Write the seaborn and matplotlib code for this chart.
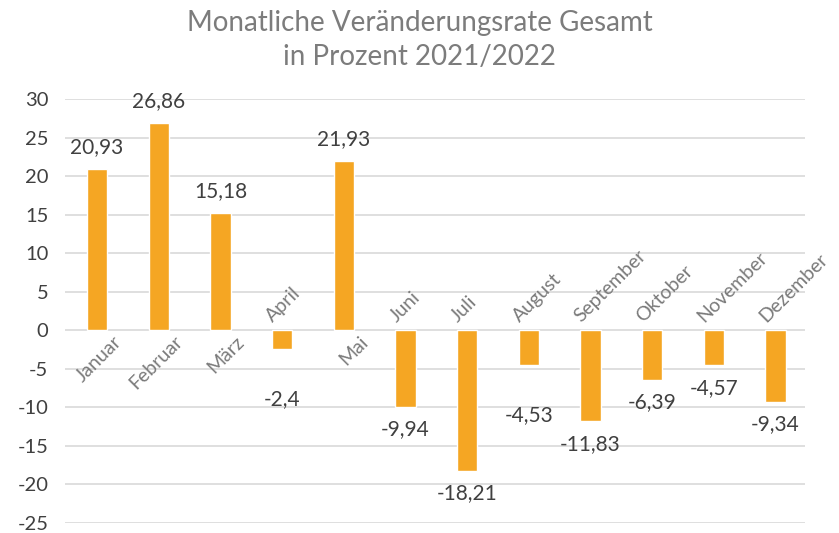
import pandas as pd
import matplotlib.pyplot as plt
import seaborn as sns

months = ["Januar", "Februar", "März", "April", "Mai", "Juni", "Juli",
          "August", "September", "Oktober", "November", "Dezember"]
values = [20.93, 26.86, 15.18, -2.4, 21.93, -9.94, -18.21,
          -4.53, -11.83, -6.39, -4.57, -9.34]
value_labels = ["20,93", "26,86", "15,18", "-2,4", "21,93", "-9,94", "-18,21",
                "-4,53", "-11,83", "-6,39", "-4,57", "-9,34"]
y_ticks = list(range(-25, 31, 5))

# some labels were pushed further down in the original
extra_drop = {"April": 20, "August": 20}

df = pd.DataFrame({"month": months, "value": values})

sns.set_style("white")
plt.rcParams["font.family"] = ["Lato", "DejaVu Sans"]

fig = plt.figure(figsize=(8.39, 5.33), dpi=100)
ax = fig.add_axes([0.0775, 0.0188, 0.882, 0.7955])

sns.barplot(data=df, x="month", y="value", color="#F5A623", width=0.33,
            saturation=1, ax=ax, zorder=3)

ax.set_ylim(-25, 30)
ax.set_xlim(-0.52, 11.48)
ax.set_yticks(y_ticks)
ax.set_yticklabels([str(t) for t in y_ticks], fontsize=14.5, color="#404040")
ax.tick_params(axis="y", length=0, pad=12)
ax.set_xticks([])
ax.set_xlabel("")
ax.set_ylabel("")
for s in ax.spines.values():
    s.set_visible(False)
ax.grid(axis="y", color="#d9d9d9", linewidth=1.2, zorder=0)

for i, (m, v, lab) in enumerate(zip(months, values, value_labels)):
    if v >= 0:
        ax.annotate(lab, (i, v), xytext=(0, 16), textcoords="offset points",
                    ha="center", va="center", fontsize=15, color="#404040")
        ax.annotate(m, (i, 0), xytext=(11, -2), textcoords="offset points",
                    ha="right", va="top", rotation=45, rotation_mode="anchor",
                    fontsize=14, color="#7a7a7a")
    else:
        drop = 16 + extra_drop.get(m, 0)
        ax.annotate(lab, (i, v), xytext=(0, -drop), textcoords="offset points",
                    ha="center", va="center", fontsize=15, color="#404040")
        ax.annotate(m, (i, 0), xytext=(-5, 4), textcoords="offset points",
                    ha="left", va="bottom", rotation=45, rotation_mode="anchor",
                    fontsize=14, color="#7a7a7a")

fig.text(0.5, 0.957, "Monatliche Veränderungsrate Gesamt", ha="center",
         va="center", fontsize=20, color="#7c7c7c")
fig.text(0.5, 0.893, "in Prozent 2021/2022", ha="center",
         va="center", fontsize=20, color="#7c7c7c")

fig.savefig("out.png", dpi=100)
